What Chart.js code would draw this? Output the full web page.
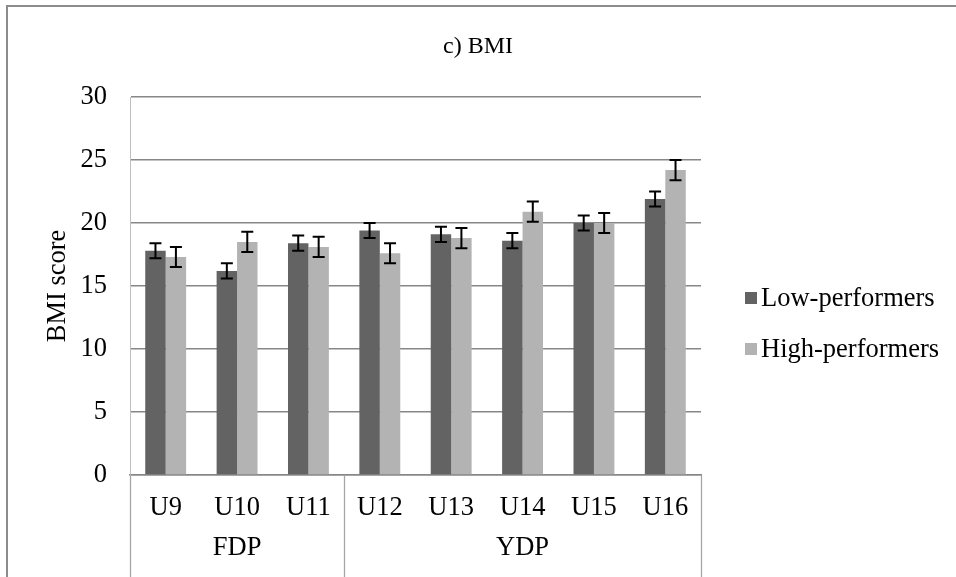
<!DOCTYPE html>
<html>
<head>
<meta charset="utf-8">
<script src="https://cdn.jsdelivr.net/npm/chart.js@4"></script>
<style>
  html, body { margin: 0; padding: 0; background: #fff; }
  #wrap { width: 956px; height: 577px; position: relative; }
</style>
</head>
<body>
<div id="wrap"><canvas id="c" width="956" height="577"></canvas></div>
<script>
// Age groups and their programme
const categories = ['U9', 'U10', 'U11', 'U12', 'U13', 'U14', 'U15', 'U16'];
const groups = [
  { label: 'FDP', from: 0, to: 2 },
  { label: 'YDP', from: 3, to: 7 }
];

// Mean BMI per group
const lowMeans  = [17.8, 16.2, 18.4, 19.4, 19.1, 18.6, 20.0, 21.9];
const highMeans = [17.3, 18.5, 18.1, 17.6, 18.8, 20.9, 20.0, 24.2];

// Error bar half-widths
const lowErr  = [0.6, 0.6, 0.6, 0.6, 0.6, 0.6, 0.6, 0.6];
const highErr = [0.8, 0.8, 0.8, 0.8, 0.8, 0.8, 0.8, 0.8];

const yTicks = [0, 5, 10, 15, 20, 25, 30];

const chartTitle = 'c) BMI';

const FONT = '"Liberation Serif", "Times New Roman", serif';
const TXT = 26.5;
const DARK = '#636363';
const LIGHT = '#b3b3b3';
const GRID = '#878787';

// Error bars, drawn from each bar's value through the y scale
const errorBars = {
  id: 'errorBars',
  afterDatasetsDraw(chart) {
    const { ctx } = chart;
    const y = chart.scales.y;
    const errs = [lowErr, highErr];
    ctx.save();
    ctx.strokeStyle = '#000';
    ctx.lineWidth = 2;
    chart.data.datasets.forEach((ds, di) => {
      const meta = chart.getDatasetMeta(di);
      meta.data.forEach((bar, i) => {
        const v = ds.data[i], e = errs[di][i];
        const yt = y.getPixelForValue(v + e);
        const yb = y.getPixelForValue(v - e);
        const x = bar.x, hw = 6;
        ctx.beginPath();
        ctx.moveTo(x, yt); ctx.lineTo(x, yb);
        ctx.moveTo(x - hw, yt); ctx.lineTo(x + hw, yt);
        ctx.moveTo(x - hw, yb); ctx.lineTo(x + hw, yb);
        ctx.stroke();
      });
    });
    ctx.restore();
  }
};

// Title, two-level category axis, legend and outer frame
const decorations = {
  id: 'decorations',
  afterDraw(chart) {
    const { ctx, chartArea } = chart;
    const x = chart.scales.x;
    const bottom = chartArea.bottom;
    const step = (chartArea.right - chartArea.left) / categories.length;
    ctx.save();

    ctx.fillStyle = '#000';
    ctx.textAlign = 'center';
    ctx.textBaseline = 'middle';
    ctx.font = '24px ' + FONT;
    ctx.fillText(chartTitle, 478, 47);

    // separators of the programme groups
    ctx.strokeStyle = '#a6a6a6';
    ctx.lineWidth = 1.3;
    const seps = [chartArea.left];
    groups.forEach(g => seps.push(chartArea.left + (g.to + 1) * step));
    seps.forEach(sx => {
      ctx.beginPath();
      ctx.moveTo(Math.round(sx) + 0.5, bottom);
      ctx.lineTo(Math.round(sx) + 0.5, 577);
      ctx.stroke();
    });

    ctx.font = TXT + 'px ' + FONT;
    categories.forEach((c, i) => {
      ctx.fillText(c, x.getPixelForValue(i), bottom + 33);
    });
    groups.forEach(g => {
      const cx = (x.getPixelForValue(g.from) + x.getPixelForValue(g.to)) / 2;
      ctx.fillText(g.label, cx, bottom + 73);
    });

    // legend
    ctx.textAlign = 'left';
    chart.data.datasets.forEach((ds, i) => {
      const ly = 298 + i * 51;
      ctx.fillStyle = ds.backgroundColor;
      ctx.fillRect(745, ly - 6, 12, 12);
      ctx.fillStyle = '#000';
      ctx.fillText(ds.label, 761, ly + 1);
    });

    // chart frame
    ctx.strokeStyle = '#8c8c8c';
    ctx.lineWidth = 2;
    ctx.beginPath();
    ctx.moveTo(7, 600);
    ctx.lineTo(7, 6);
    ctx.lineTo(960, 6);
    ctx.stroke();
    ctx.restore();
  }
};

new Chart(document.getElementById('c'), {
  type: 'bar',
  data: {
    labels: categories,
    datasets: [
      { label: 'Low-performers', data: lowMeans, backgroundColor: DARK,
        categoryPercentage: 0.573, barPercentage: 1.0 },
      { label: 'High-performers', data: highMeans, backgroundColor: LIGHT,
        categoryPercentage: 0.573, barPercentage: 1.0 }
    ]
  },
  options: {
    responsive: false,
    animation: false,
    devicePixelRatio: 1,
    layout: { padding: { left: 0, right: 255, top: 97, bottom: 102 } },
    plugins: {
      legend: { display: false },
      tooltip: { enabled: false },
      title: { display: false }
    },
    scales: {
      x: {
        grid: { display: false, drawTicks: false },
        border: { display: true, color: GRID, width: 1.5 },
        ticks: { display: false },
        afterFit(s) { s.height = 0; }
      },
      y: {
        min: 0, max: 30,
        afterBuildTicks(s) { s.ticks = yTicks.map(v => ({ value: v })); },
        afterFit(s) { s.width = 130; },
        grid: { color: GRID, lineWidth: 1.5, drawTicks: false },
        border: { display: true, color: '#bfbfbf', width: 1 },
        ticks: {
          color: '#000', padding: 23,
          font: { family: FONT, size: TXT }
        },
        title: {
          display: true, text: 'BMI score', color: '#000',
          font: { family: FONT, size: TXT },
          padding: { top: 42, bottom: 0 }
        }
      }
    }
  },
  plugins: [errorBars, decorations]
});
</script>
</body>
</html>
